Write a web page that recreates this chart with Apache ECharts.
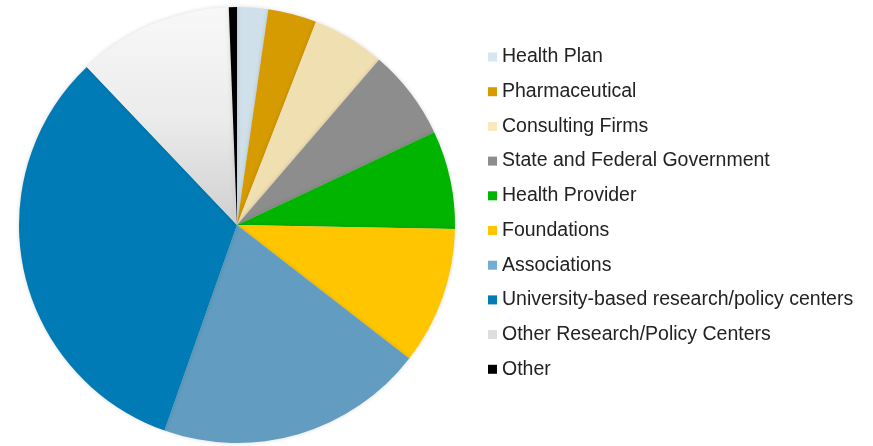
<!DOCTYPE html>
<html>
<head>
<meta charset="utf-8">
<script src="https://cdn.jsdelivr.net/npm/echarts@6/dist/echarts.min.js"></script>
<style>
  html, body { margin: 0; padding: 0; background: #fff; }
  #container { width: 873px; height: 446px; }
</style>
</head>
<body>
<div id="container"></div>
<script>
    // categories in clockwise order, starting at 12 o'clock
    var categories = ['Health Plan', 'Pharmaceutical', 'Consulting Firms', 'State and Federal Government',
        'Health Provider', 'Foundations', 'Associations', 'University-based research/policy centers',
        'Other Research/Policy Centers', 'Other'];
    // share of the pie, percent
    var shares = [2.3, 3.6, 5.4, 6.7, 7.3, 10.2, 19.9, 32.5, 11.5, 0.6];
    var colors = ['#d0e0ea', '#d69b00', '#efdfb1', '#8d8d8d', '#00b400', '#ffc600', '#629dc1', '#007bb6',
        new echarts.graphic.LinearGradient(0, 0, 0, 1, [
            {offset: 0, color: '#f8f8f8'},
            {offset: 0.5, color: '#ececec'},
            {offset: 1, color: '#cfcfcf'}
        ]),
        '#000000'];
    var legendColors = ['#d8e6ef', '#d69b00', '#fbe8be', '#8d8d8d', '#00b400', '#ffc600', '#71aed6', '#007bb6', '#dedede', '#000000'];

    var pieData = categories.map(function (name, i) {
        return {name: name, value: shares[i], itemStyle: {color: colors[i]}};
    });

    var myChart = echarts.init(document.getElementById('container'));

    var option = {
        animation: false,
        legend: {
            orient: 'vertical',
            left: 483,
            top: 42,
            icon: 'rect',
            itemWidth: 9,
            itemHeight: 9,
            itemGap: 14.7,
            selectedMode: false,
            data: categories.map(function (name, i) {
                return {name: name, itemStyle: {color: legendColors[i]}};
            }),
            textStyle: {
                fontFamily: 'Liberation Sans, Arial, sans-serif',
                fontSize: 19.5,
                lineHeight: 20,
                color: '#222'
            }
        },
        series: [{
            type: 'pie',
            center: [237, 225],
            radius: 218,
            startAngle: 90,
            clockwise: true,
            label: {show: false},
            labelLine: {show: false},
            emphasis: {disabled: true},
            itemStyle: {
                borderWidth: 0,
                shadowColor: 'rgba(0,0,0,0.15)',
                shadowBlur: 4
            },
            data: pieData
        }]
    };

    myChart.setOption(option);
</script>
</body>
</html>
